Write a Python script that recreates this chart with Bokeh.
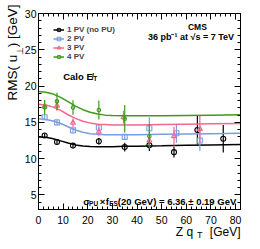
import math
from bokeh.plotting import figure
from bokeh.models import (ColumnDataSource, LinearAxis, SingleIntervalTicker, Label,
                          Legend, LegendItem, Range1d, Title)
from bokeh.embed import file_html
from bokeh.resources import INLINE

# ---------------- data ----------------
# measured points: Z qT bin centres, RMS(u_perp), error
x_1pv = [2.5, 7.5, 14, 24.5, 35, 45, 55, 64.5, 75]
y_1pv = [13.2, 12.3, 11.8, 12.4, 11.6, 11.85, 10.9, 13.95, 12.75]
e_1pv = [0.3, 0.3, 0.3, 0.45, 0.6, 0.8, 0.75, 2.0, 1.9]

x_2pv = [2.5, 7.5, 14, 24.5, 35, 45, 56, 65.5]
y_2pv = [15.7, 15.0, 13.9, 14.3, 13.0, 14.2, 13.5, 12.5]
e_2pv = [0.3, 0.3, 0.3, 0.5, 0.4, 1.5, 1.3, 1.4]

x_3pv = [2.5, 7.5, 14, 24.5, 34.5, 45, 55, 65.5]
y_3pv = [17.2, 17.3, 14.95, 13.7, 15.7, 12.5, 13.1, 14.1]
e_3pv = [0.5, 0.7, 0.6, 0.6, 0.9, 0.6, 1.3, 1.9]

x_4pv = [2.5, 7.5, 14, 24.5, 35, 45]
y_4pv = [17.1, 17.9, 17.05, 16.7, 15.5, 13.1]
e_4pv = [1.0, 1.2, 1.0, 1.3, 1.9, 1.7]

# fitted curves
fit_x = [0, 3, 6, 9, 12, 15, 18, 21, 24, 27, 30, 35, 40, 50, 60, 70, 82]
fit_1pv = [13.0, 12.95, 12.75, 12.45, 12.15, 11.9, 11.75, 11.68, 11.65, 11.65, 11.65, 11.7, 11.72, 11.78, 11.85, 11.9, 11.95]
fit_2pv = [15.5, 15.4, 15.2, 14.85, 14.4, 13.95, 13.65, 13.45, 13.35, 13.3, 13.3, 13.3, 13.3, 13.35, 13.4, 13.45, 13.5]
fit_3pv = [17.5, 17.4, 17.1, 16.65, 16.05, 15.55, 15.15, 14.9, 14.75, 14.7, 14.65, 14.65, 14.65, 14.7, 14.75, 14.8, 14.85]
fit_4pv = [19.25, 19.15, 18.9, 18.45, 17.85, 17.25, 16.75, 16.4, 16.15, 16.0, 15.95, 15.9, 15.9, 15.9, 15.95, 16.0, 16.05]

labels = ["1 PV (no PU)", "2 PV", "3 PV", "4 PV"]
colors = ["#000000", "#7b9ee0", "#f7668f", "#3f9a1c"]
markers = ["circle", "square", "triangle", "circle"]
msizes = [5, 5, 5, 3.5]

X_MIN, X_MAX, Y_MIN, Y_MAX = 0, 82, 3, 30

FONT = "Liberation Sans"
NB = "\u00a0"

# canvas size and frame position (canvas pixels)
W, H = 252, 241
CL, CR, CT, CB = 35, 240, 13, 209
# picture pixels per canvas pixel
SX, SY = 260 / W, 249 / H

p = figure(width=W, height=H, x_range=Range1d(X_MIN, X_MAX), y_range=Range1d(Y_MIN, Y_MAX),
           output_backend="svg", toolbar_location=None,
           min_border_left=CL, min_border_right=W - CR,
           min_border_top=CT, min_border_bottom=H - CB)
p.background_fill_color = "white"
p.border_fill_color = "white"
p.outline_line_color = "black"
p.outline_line_width = 1
p.grid.visible = False


def dx(ix):
    return X_MIN + (X_MAX - X_MIN) * (ix / SX - CL) / (CR - CL)


def dy(iy):
    return Y_MIN + (Y_MAX - Y_MIN) * (CB - iy / SY) / (CB - CT)


def style_axis(ax, standoff, show_labels=True):
    ax.axis_line_color = "black"
    ax.major_tick_line_color = "black"
    ax.minor_tick_line_color = "black"
    ax.major_tick_in = 6
    ax.major_tick_out = 0
    ax.minor_tick_in = 3
    ax.minor_tick_out = 0
    ax.major_label_text_font = FONT
    if show_labels:
        ax.major_label_text_color = "black"
        ax.major_label_text_font_size = "10.5px"
        ax.major_label_standoff = standoff
    else:
        ax.major_label_text_color = None
        ax.major_label_text_font_size = "1px"
        ax.major_label_standoff = 0


p.xaxis.ticker = SingleIntervalTicker(interval=10, num_minor_ticks=5)
p.yaxis.ticker = SingleIntervalTicker(interval=5, num_minor_ticks=5)
style_axis(p.xaxis[0], 6)
style_axis(p.yaxis[0], 2)

top = LinearAxis(ticker=SingleIntervalTicker(interval=10, num_minor_ticks=5))
style_axis(top, 0, False)
p.add_layout(top, "above")
right = LinearAxis(ticker=SingleIntervalTicker(interval=5, num_minor_ticks=5))
style_axis(right, 0, False)
p.add_layout(right, "right")

series = [(x_1pv, y_1pv, e_1pv, fit_1pv), (x_2pv, y_2pv, e_2pv, fit_2pv),
          (x_3pv, y_3pv, e_3pv, fit_3pv), (x_4pv, y_4pv, e_4pv, fit_4pv)]

items = []
for (xs, ys, es, fit), lab_txt, col, mk, ms in zip(series, labels, colors, markers, msizes):
    src = ColumnDataSource(dict(x=xs, y=ys, lo=[a - b for a, b in zip(ys, es)],
                                hi=[a + b for a, b in zip(ys, es)]))
    fsrc = ColumnDataSource(dict(x=fit_x, y=fit))
    lr = p.line("x", "y", source=fsrc, line_color=col, line_width=1.5)
    p.segment(x0="x", y0="lo", x1="x", y1="hi", source=src, line_color=col, line_width=1.2)
    sr = p.scatter("x", "y", source=src, marker=mk, size=ms, line_color=col,
                   line_width=1.1, fill_color=None)
    items.append(LegendItem(label=lab_txt, renderers=[lr, sr]))

legend = Legend(items=items, location=(15, CB - 61), padding=0, margin=0, spacing=0,
                label_height=9, glyph_height=9, glyph_width=11, label_standoff=3,
                label_text_font=FONT, label_text_font_style="bold",
                label_text_font_size="8px", background_fill_alpha=0,
                border_line_alpha=0)
p.add_layout(legend)


def lab(text, ix, iy, size, bold=False, align="left", xo=0, yo=0):
    p.add_layout(Label(x=dx(ix), y=dy(iy), text=text, x_offset=xo, y_offset=yo,
                       text_font=FONT, text_font_size=size,
                       text_font_style="bold" if bold else "normal",
                       text_align=align, text_baseline="alphabetic", text_color="black"))


def side_title(text, side, size, align, valign, offset, standoff):
    p.add_layout(Title(text=text, text_font=FONT, text_font_size=size,
                       text_font_style="normal", text_color="black", align=align,
                       vertical_align=valign, offset=offset, standoff=standoff), side)


# texts inside the frame (positions in picture pixels)
lab("CMS", 202.5, 27.7, "8.5px", bold=True, align="center")
lab("36 pb\u207b\u00b9  at \u221as = 7 TeV", 150.7, 37.7, "9px", bold=True)
lab("Calo E\u0338", 62, 78.5, "9.5px", bold=True)
lab("T", 62, 78.5, "6.5px", bold=True, xo=30, yo=-2.5)

bx, by = 83, 207.5
lab("\u03c3", bx, by, "9.5px", bold=True)
lab("PU", bx, by, "6.5px", bold=True, xo=5.8, yo=-2.5)
lab("\u00d7", bx, by, "9.5px", bold=True, xo=16.5)
lab("f", bx, by, "9.5px", bold=True, xo=22.5)
lab("ES", bx, by, "6.5px", bold=True, xo=26, yo=-2.5)
lab("(20 GeV) = 6.36 \u00b1 0.19 GeV", bx, by, "9.5px", bold=True, xo=34.5)

# axis titles, in the side panels (outside the frame)
side_title("Z q" + NB * 5 + "[GeV]", "below", "12px", "right", "top", 0, -3.4)
side_title("T", "below", "9px", "left", "top", 158.5, -19)
side_title("\u22a5", "left", "9px", "right", "top", 33.8, -14)
side_title("RMS(" + NB + "u" + NB * 2 + ")" + NB + "[GeV]", "left", "13.5px", "right", "bottom", -9, 4)

open("out.html", "w").write(file_html(p, INLINE))
